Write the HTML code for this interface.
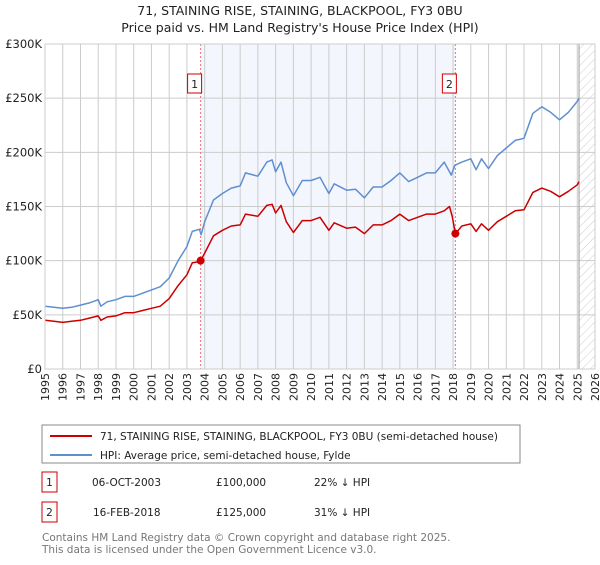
<!DOCTYPE html>
<html><head><meta charset="utf-8">
<style>
body{margin:0;background:#fff;font-family:"Liberation Sans","DejaVu Sans",sans-serif;}
svg text{font-family:"DejaVu Sans","Liberation Sans",sans-serif;}
</style></head>
<body>
<svg id="chart" width="600" height="560" viewBox="0 0 600 560" xmlns="http://www.w3.org/2000/svg">
<defs>
<pattern id="hatch" width="6" height="6" patternUnits="userSpaceOnUse" patternTransform="rotate(45)">
<line x1="0" y1="0" x2="0" y2="6" stroke="#ccc" stroke-width="1"/>
</pattern>
</defs>
<text x="300" y="15" text-anchor="middle" font-size="12.5" fill="#222">71, STAINING RISE, STAINING, BLACKPOOL, FY3 0BU</text>
<text x="300" y="32" text-anchor="middle" font-size="12.5" fill="#222">Price paid vs. HM Land Registry's House Price Index (HPI)</text>
<g id="plot"></g>
<g>
<rect x="42" y="425" width="478" height="38" fill="#fff" stroke="#888"/>
<line x1="50" y1="436" x2="92" y2="436" stroke="#cc0000" stroke-width="2"/>
<text x="100" y="440" font-size="10.5" fill="#222">71, STAINING RISE, STAINING, BLACKPOOL, FY3 0BU (semi-detached house)</text>
<line x1="50" y1="455" x2="92" y2="455" stroke="#5f8fd0" stroke-width="2"/>
<text x="100" y="459" font-size="10.5" fill="#222">HPI: Average price, semi-detached house, Fylde</text>
</g>
<g font-size="10.5" fill="#222">
<rect x="42" y="472" width="15" height="20" fill="#fff" stroke="#cc0000"/>
<text x="49.5" y="486" text-anchor="middle">1</text>
<text x="92" y="486">06-OCT-2003</text>
<text x="216" y="486">£100,000</text>
<text x="314" y="486">22% ↓ HPI</text>
<rect x="42" y="502" width="15" height="20" fill="#fff" stroke="#cc0000"/>
<text x="49.5" y="516" text-anchor="middle">2</text>
<text x="93" y="516">16-FEB-2018</text>
<text x="216" y="516">£125,000</text>
<text x="314" y="516">31% ↓ HPI</text>
</g>
<text x="42" y="541" font-size="10.5" fill="#777">Contains HM Land Registry data © Crown copyright and database right 2025.</text>
<text x="42" y="553" font-size="10.5" fill="#777">This data is licensed under the Open Government Licence v3.0.</text>
</svg>
<script>
const hpiYears=[1995.0,1995.5,1996.0,1996.5,1997.0,1997.5,1998.0,1998.15,1998.5,1999.0,1999.5,2000.0,2000.5,2001.0,2001.5,2002.0,2002.5,2003.0,2003.3,2003.7,2003.8,2004.0,2004.5,2005.0,2005.5,2006.0,2006.3,2007.0,2007.5,2007.8,2008.0,2008.3,2008.6,2009.0,2009.5,2010.0,2010.5,2011.0,2011.3,2012.0,2012.5,2013.0,2013.5,2014.0,2014.5,2015.0,2015.5,2016.0,2016.5,2017.0,2017.5,2017.9,2018.1,2018.5,2019.0,2019.3,2019.6,2020.0,2020.5,2021.0,2021.5,2022.0,2022.5,2023.0,2023.5,2024.0,2024.5,2025.0,2025.1];
const hpiValues=[58,57,56,57,59,61,64,58,62,64,67,67,70,73,76,84,100,113,127,129,124,136,156,162,167,169,181,178,191,193,182,191,172,160,174,174,177,162,171,165,166,158,168,168,174,181,173,177,181,181,191,179,188,191,194,184,194,185,197,204,211,213,236,242,237,230,237,247,250];
const priceYears=[1995.0,1995.5,1996.0,1996.5,1997.0,1997.5,1998.0,1998.15,1998.5,1999.0,1999.5,2000.0,2000.5,2001.0,2001.5,2002.0,2002.5,2003.0,2003.3,2003.7,2003.77,2004.0,2004.5,2005.0,2005.5,2006.0,2006.3,2007.0,2007.5,2007.8,2008.0,2008.3,2008.6,2009.0,2009.5,2010.0,2010.5,2011.0,2011.3,2012.0,2012.5,2013.0,2013.5,2014.0,2014.5,2015.0,2015.5,2016.0,2016.5,2017.0,2017.5,2017.8,2017.95,2018.13,2018.5,2019.0,2019.3,2019.6,2020.0,2020.5,2021.0,2021.5,2022.0,2022.5,2023.0,2023.5,2024.0,2024.5,2025.0,2025.1];
const priceValues=[45,44,43,44,45,47,49,45,48,49,52,52,54,56,58,65,77,87,98,99,100,107,123,128,132,133,143,141,151,152,144,151,136,126,137,137,140,128,135,130,131,125,133,133,137,143,137,140,143,143,146,150,141,125,132,134,127,134,128,136,141,146,147,163,167,164,159,164,170,173];
const saleYears=[2003.77,2018.13];
const saleValues=[100,125];
const saleLabels=["1","2"];
const yTicks=[0,50,100,150,200,250,300];
const yTickLabels=["£0","£50K","£100K","£150K","£200K","£250K","£300K"];
const xTicks=[1995,1996,1997,1998,1999,2000,2001,2002,2003,2004,2005,2006,2007,2008,2009,2010,2011,2012,2013,2014,2015,2016,2017,2018,2019,2020,2021,2022,2023,2024,2025,2026];

const L=45,R=595,T=44,B=369,X0=1995,X1=2026,YMAX=300;
const xs=v=>L+(v-X0)/(X1-X0)*(R-L);
const ys=v=>B-v/YMAX*(B-T);
const NS="http://www.w3.org/2000/svg";
const g=document.getElementById('plot');
function mk(tag,attrs,parent){const e=document.createElementNS(NS,tag);for(const k in attrs)e.setAttribute(k,attrs[k]);(parent||g).appendChild(e);return e;}

let sh=mk('rect',{x:xs(saleYears[0]),y:T,width:xs(saleYears[1])-xs(saleYears[0]),height:B-T,fill:'#f3f6fd'});


let hz=mk('rect',{x:xs(2025.1),y:T,width:R-xs(2025.1),height:B-T,fill:'url(#hatch)'});



xTicks.forEach((t,i)=>{
  let ln=mk('line',{x1:xs(t),y1:T,x2:xs(t),y2:B,stroke:'#ccc','stroke-width':1});
  
  
  let tx=mk('text',{x:0,y:0,'font-size':11,fill:'#222','text-anchor':'end',transform:`translate(${xs(t)+4},${B+4}) rotate(-90)`});
  tx.textContent=t;
  
  
});
yTicks.forEach((t,i)=>{
  let ln=mk('line',{x1:L,y1:ys(t),x2:R,y2:ys(t),stroke:'#ccc','stroke-width':1});
  
  
  let tx=mk('text',{x:L-3,y:ys(t)+4,'font-size':11.5,fill:'#222','text-anchor':'end'});
  tx.textContent=yTickLabels[i];
  
  
});
let vline=mk('line',{x1:xs(2025.1),y1:T,x2:xs(2025.1),y2:B,stroke:'#999','stroke-width':1});



saleYears.forEach((s,i)=>{
  let dl=mk('line',{x1:xs(s),y1:T,x2:xs(s),y2:B,stroke:'#f07070','stroke-width':1,'stroke-dasharray':'2,2'});
  
  
  let bx=mk('rect',{x:xs(s)-13,y:74,width:14,height:19,fill:'#fff',stroke:'#cc0000'});
  
  
  let bt=mk('text',{x:xs(s)-6,y:88,'font-size':11,fill:'#222','text-anchor':'middle'});
  bt.textContent=saleLabels[i];
  
  
});

function path(xa,va){return xa.map((x,i)=>(i?'L':'M')+xs(x).toFixed(1)+','+ys(va[i]).toFixed(1)).join('');}
let hp=mk('path',{d:path(hpiYears,hpiValues),fill:'none',stroke:'#5f8fd0','stroke-width':1.5,'stroke-linejoin':'round'});


let pp=mk('path',{d:path(priceYears,priceValues),fill:'none',stroke:'#cc0000','stroke-width':1.5,'stroke-linejoin':'round'});


saleYears.forEach((s,i)=>{
  let c=mk('circle',{cx:xs(s),cy:ys(saleValues[i]),r:4,fill:'#cc0000'});
  
  
});
let fr=mk('rect',{x:L,y:T,width:R-L,height:B-T,fill:'none',stroke:'#ccc'});


</script>
</body></html>
